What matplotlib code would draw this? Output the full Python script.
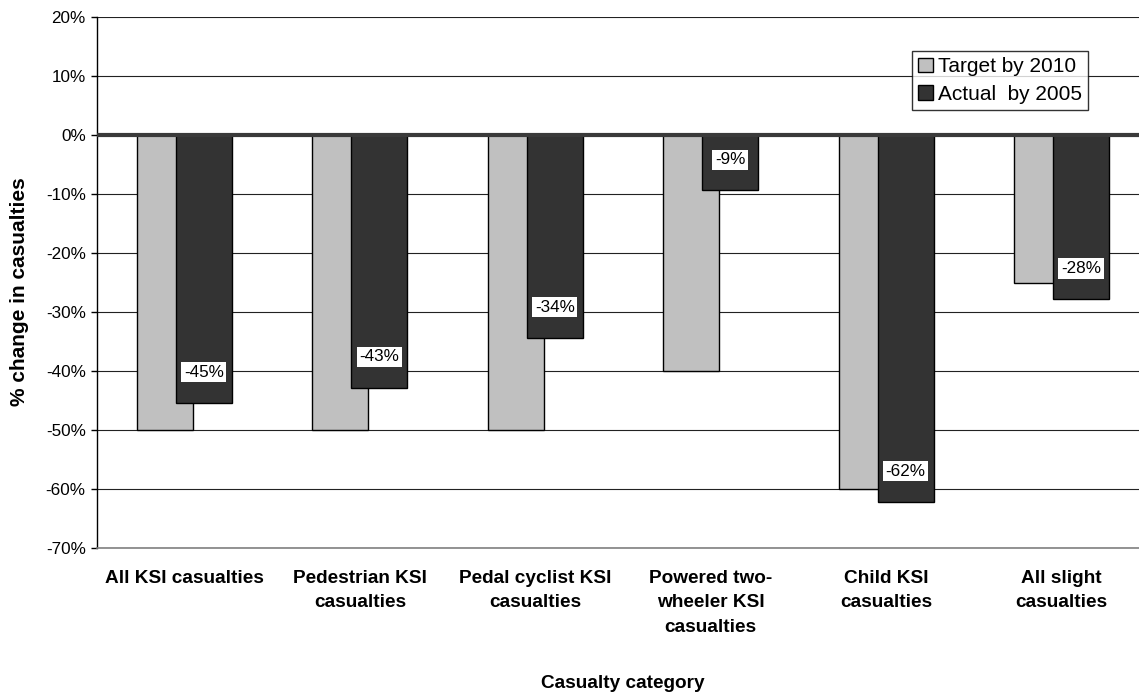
import numpy as np
import matplotlib.pyplot as plt

plt.rcParams['font.family'] = ['Liberation Sans', 'DejaVu Sans']

# Data
categories = ['All KSI casualties', 'Pedestrian KSI\ncasualties', 'Pedal cyclist KSI\ncasualties',
              'Powered two-\nwheeler KSI\ncasualties', 'Child KSI\ncasualties', 'All slight\ncasualties']
target_2010 = [-50, -50, -50, -40, -60, -25]
actual_2005 = [-45.4, -42.8, -34.4, -9.4, -62.2, -27.8]
actual_labels = ['-45%', '-43%', '-34%', '-9%', '-62%', '-28%']

fig = plt.figure(figsize=(11.39, 6.93), dpi=100)
# plot area runs past the right edge of the picture, as in the original
ax = fig.add_axes([96.8 / 1139, 145 / 693, 1052.4 / 1139, 531 / 693])

x = np.arange(len(categories))
w = 0.32
off = 0.111

ax.bar(x - off, target_2010, w, color='#C0C0C0', edgecolor='black', linewidth=1,
       label='Target by 2010', zorder=3)
bars = ax.bar(x + off, actual_2005, w, color='#333333', edgecolor='black', linewidth=1,
              label='Actual  by 2005', zorder=4)

for b, txt in zip(bars, actual_labels):
    ax.annotate(txt, (b.get_x() + b.get_width() / 2, b.get_height()),
                xytext=(0, 22), textcoords='offset points', ha='center', va='center',
                fontsize=12.3, zorder=6,
                bbox=dict(boxstyle='square,pad=0.15', facecolor='white', edgecolor='none'))

ax.axhline(0, color='#3a3a3a', linewidth=3, zorder=5)

ax.set_xlim(-0.5, 5.5)
ax.set_ylim(-70, 20)
ax.set_yticks(np.arange(-70, 21, 10))
ax.set_yticklabels([f'{v}%' for v in range(-70, 21, 10)], fontsize=12.3)
ax.yaxis.grid(True, color='#222222', linewidth=0.8, zorder=0)
ax.set_axisbelow(True)

ax.set_xticks(x)
ax.set_xticklabels(categories, fontsize=13.7, fontweight='bold', linespacing=1.55, va='top')
ax.tick_params(axis='x', length=0, pad=16)
ax.tick_params(axis='y', direction='out', length=4, width=1, color='black', pad=4)

for s in ['top', 'right']:
    ax.spines[s].set_visible(False)
ax.spines['left'].set_color('black')
ax.spines['left'].set_linewidth(1)
ax.spines['bottom'].set_color('#808080')
ax.spines['bottom'].set_linewidth(1.2)

ax.set_ylabel('% change in casualties', fontsize=15, fontweight='bold')
ax.yaxis.label.set_va('center')
ax.yaxis.set_label_coords(19.5 / 1139, 1 - 292 / 693, transform=fig.transFigure)
ax.set_xlabel('Casualty category', fontsize=13.7, fontweight='bold')
ax.xaxis.set_label_coords(0.5, (548 - 683) / 531)
ax.xaxis.label.set_va('center')

leg = ax.legend(loc='upper left', bbox_to_anchor=(912 / 1139, 1 - 51 / 693),
                bbox_transform=fig.transFigure, fontsize=15, frameon=True, fancybox=False,
                borderaxespad=0, handlelength=0.7, handleheight=0.7, handletextpad=0.25,
                borderpad=0.3, labelspacing=0.4)
leg.get_frame().set_edgecolor('black')
leg.get_frame().set_linewidth(1)
leg.set_zorder(10)

fig.savefig('out.png', dpi=100)
